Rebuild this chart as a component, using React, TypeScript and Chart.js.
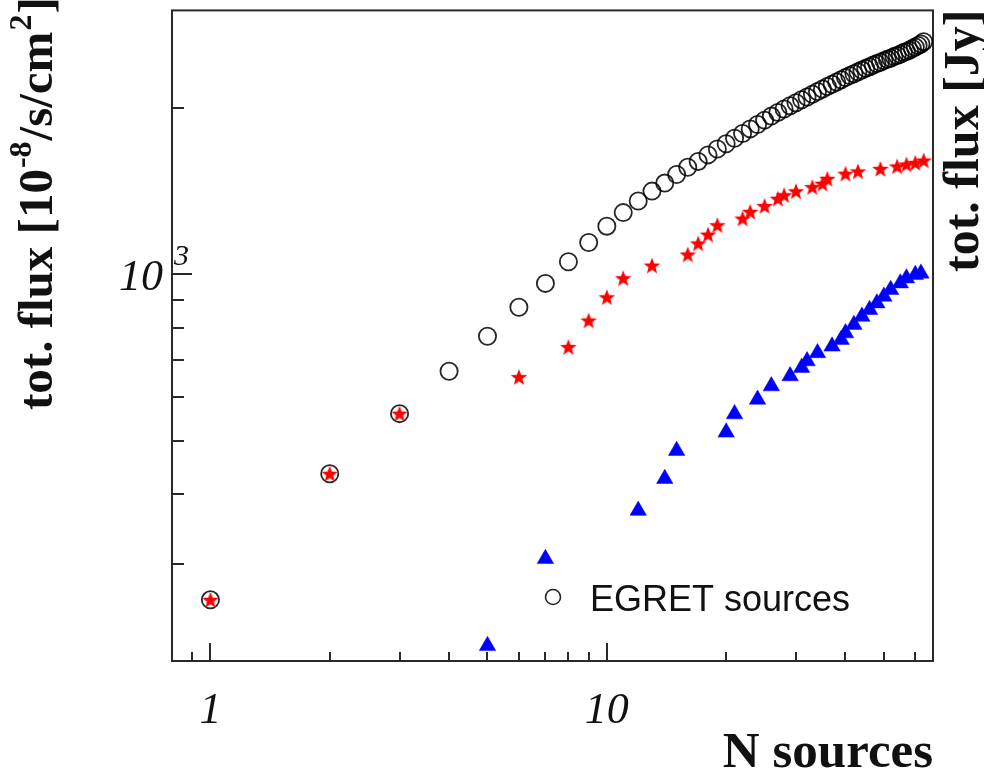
import React, { useEffect, useRef } from "react";
import { Chart, registerables } from "chart.js";

Chart.register(...registerables);

// ---- data ----
const egretN = [
  1, 2, 3, 4, 5, 6, 7, 8, 9, 10, 11, 12, 13, 14, 15, 16, 17, 18, 19, 20, 21,
  22, 23, 24, 25, 26, 27, 28, 29, 30, 31, 32, 33, 34, 35, 36, 37, 38, 39, 40,
  41, 42, 43, 44, 45, 46, 47, 48, 49, 50, 51, 52, 53, 54, 55, 56, 57, 58, 59,
  60, 61, 62, 63,
];
const egretFlux = [
  258, 436, 560, 668, 773, 872, 963, 1054, 1142, 1222, 1293, 1357, 1414, 1462,
  1515, 1562, 1600, 1644, 1685, 1722, 1762, 1797, 1832, 1866, 1900, 1932, 1962,
  1990, 2017, 2043, 2068, 2092, 2116, 2140, 2163, 2185, 2206, 2227, 2248, 2268,
  2287, 2305, 2323, 2340, 2357, 2373, 2389, 2404, 2418, 2434, 2447, 2459, 2475,
  2487, 2500, 2517, 2529, 2541, 2560, 2575, 2592, 2609, 2634,
];

const starN = [
  1, 2, 3, 6, 8, 9, 10, 11, 13, 16, 17, 18, 19, 22, 23, 25, 27, 28, 30, 33, 35,
  36, 40, 43, 49, 54, 57, 60, 63,
];
const starFlux = [
  258, 436, 560, 652, 739, 825, 909, 984, 1037, 1086, 1137, 1180, 1227, 1261,
  1297, 1329, 1370, 1390, 1413, 1438, 1458, 1488, 1520, 1535, 1551, 1567, 1580,
  1590, 1606,
];

const triN = [
  5, 7, 12, 14, 15, 20, 21, 24, 26, 29, 31, 32, 34, 37, 39, 40, 42, 44, 46, 48,
  50, 52, 55, 57, 60, 62,
];
const triFlux = [
  213, 306, 374, 427, 480, 518, 559, 594, 628, 655, 678, 697, 721, 741, 762,
  783, 811, 839, 863, 887, 912, 938, 964, 984, 998, 1004,
];

const xRange = [0.8, 66.5];
const yRange = [200, 3000];
const xTickValues = [0.9, 1, 2, 3, 4, 5, 6, 7, 8, 9, 10, 20, 30, 40, 50, 60];
const xMajorTicks = [1, 10];
const yTickValues = [300, 400, 500, 600, 700, 800, 900, 1000, 2000];
const yMajorTicks = [1000];
const xTickLabels = [
  { value: 1, text: "1" },
  { value: 10, text: "10" },
];
const yTickLabels = [{ value: 1000, base: "10", exp: "3" }];

const legendText = "EGRET sources";
const xTitle = "N sources";
const yTitleParts = [
  { t: "tot. flux [10", sup: false },
  { t: "-8", sup: true },
  { t: "/s/cm", sup: false },
  { t: "2", sup: true },
  { t: "]", sup: false },
];
const y2Title = "tot. flux [Jy]";

function makeStar(size: number, color: string): HTMLCanvasElement {
  const c = document.createElement("canvas");
  c.width = size;
  c.height = size;
  const g = c.getContext("2d")!;
  const cx = size / 2;
  const cy = size / 2 + 0.6;
  const R = size / 2 - 0.3;
  const r = R * 0.42;
  g.beginPath();
  for (let i = 0; i < 10; i++) {
    const a = -Math.PI / 2 + (i * Math.PI) / 5;
    const rad = i % 2 === 0 ? R : r;
    const px = cx + Math.cos(a) * rad;
    const py = cy + Math.sin(a) * rad;
    if (i === 0) g.moveTo(px, py);
    else g.lineTo(px, py);
  }
  g.closePath();
  g.fillStyle = color;
  g.fill();
  return c;
}

const framePlugin = {
  id: "framePlugin",
  beforeDatasetsDraw(chart: any) {
    const ctx = chart.ctx;
    const { left, right, top, bottom } = chart.chartArea;
    const xs = chart.scales.x;
    const ys = chart.scales.y;
    ctx.save();
    ctx.strokeStyle = "#2a2a2a";
    ctx.lineWidth = 2;
    ctx.strokeRect(left, top, right - left, bottom - top);
    ctx.lineWidth = 2;
    for (const v of xTickValues) {
      const px = Math.round(xs.getPixelForValue(v));
      const len = xMajorTicks.includes(v) ? 18 : 9;
      ctx.beginPath();
      ctx.moveTo(px, bottom);
      ctx.lineTo(px, bottom - len);
      ctx.stroke();
    }
    for (const v of yTickValues) {
      const py = Math.round(ys.getPixelForValue(v));
      const len = yMajorTicks.includes(v) ? 20 : 12;
      ctx.beginPath();
      ctx.moveTo(left, py);
      ctx.lineTo(left + len, py);
      ctx.stroke();
    }
    ctx.restore();
  },
  afterDraw(chart: any) {
    const ctx = chart.ctx;
    const { right } = chart.chartArea;
    const xs = chart.scales.x;
    const ys = chart.scales.y;
    ctx.save();
    ctx.fillStyle = "#111";
    // x tick labels
    ctx.font = 'italic 44px "Liberation Serif"';
    ctx.textAlign = "center";
    ctx.textBaseline = "alphabetic";
    for (const l of xTickLabels) {
      ctx.fillText(l.text, xs.getPixelForValue(l.value), 723);
    }
    // y tick labels
    for (const l of yTickLabels) {
      const py = ys.getPixelForValue(l.value);
      ctx.font = 'italic 44px "Liberation Serif"';
      ctx.textAlign = "right";
      ctx.fillText(l.base, 163, py + 16);
      ctx.font = 'italic 30px "Liberation Serif"';
      ctx.textAlign = "left";
      ctx.fillText(l.exp, 174, py - 9);
    }
    // x title
    ctx.font = 'bold 51px "Liberation Serif"';
    ctx.textAlign = "right";
    ctx.fillText(xTitle, right, 767);
    // left y title
    ctx.save();
    ctx.translate(52, 410);
    ctx.rotate(-Math.PI / 2);
    ctx.textAlign = "left";
    let pos = 0;
    for (const p of yTitleParts) {
      if (p.sup) {
        ctx.font = 'bold 32px "Liberation Serif"';
        ctx.fillText(p.t, pos + 1, -21);
      } else {
        ctx.font = 'bold 49px "Liberation Serif"';
        ctx.fillText(p.t, pos, 0);
      }
      pos += ctx.measureText(p.t).width + (p.sup ? 2 : 0);
    }
    ctx.restore();
    // right y title
    ctx.save();
    ctx.translate(978, 272);
    ctx.rotate(-Math.PI / 2);
    ctx.textAlign = "left";
    ctx.font = 'bold 50px "Liberation Serif"';
    ctx.fillText(y2Title, 0, 0);
    ctx.restore();
    // legend
    ctx.strokeStyle = "#222";
    ctx.lineWidth = 1.6;
    ctx.beginPath();
    ctx.arc(553, 597, 7.5, 0, Math.PI * 2);
    ctx.stroke();
    ctx.font = '36px "Liberation Sans"';
    ctx.textAlign = "left";
    ctx.fillStyle = "#111";
    ctx.fillText(legendText, 590, 611);
    ctx.restore();
  },
};

export default function App() {
  const ref = useRef<HTMLCanvasElement | null>(null);
  useEffect(() => {
    document.body.style.margin = "0";
    if (!ref.current) return;
    const star = makeStar(18, "#ff0000");
    const chart = new Chart(ref.current, {
      type: "scatter",
      data: {
        datasets: [
          {
            label: "stars",
            data: starN.map((n, i) => ({ x: n, y: starFlux[i] })),
            pointStyle: star as any,
            pointRadius: 8,
            order: 0,
            clip: false as any,
          },
          {
            label: "triangles",
            data: triN.map((n, i) => ({ x: n, y: triFlux[i] })),
            pointStyle: "triangle",
            pointRadius: 9.5,
            pointBackgroundColor: "#0000ff",
            pointBorderColor: "#0000ff",
            pointBorderWidth: 0.5,
            order: 1,
            clip: false as any,
          },
          {
            label: "EGRET sources",
            data: egretN.map((n, i) => ({ x: n, y: egretFlux[i] })),
            pointStyle: "circle",
            pointRadius: 8.6,
            pointBorderWidth: 1.8,
            pointBorderColor: "rgba(0,0,0,0.85)",
            pointBackgroundColor: "rgba(0,0,0,0)",
            order: 2,
            clip: false as any,
          },
        ],
      },
      options: {
        animation: false,
        responsive: false,
        events: [],
        layout: { padding: { left: 172, right: 51, top: 8, bottom: 110 } },
        plugins: {
          legend: { display: false },
          tooltip: { enabled: false },
          title: { display: false },
        },
        scales: {
          x: { type: "logarithmic", min: xRange[0], max: xRange[1], display: false },
          y: { type: "logarithmic", min: yRange[0], max: yRange[1], display: false },
        },
      },
      plugins: [framePlugin],
    });
    return () => chart.destroy();
  }, []);
  return (
    <div style={{ width: 984, height: 771, background: "#fff" }}>
      <canvas ref={ref} width={984} height={771} style={{ display: "block" }} />
    </div>
  );
}
